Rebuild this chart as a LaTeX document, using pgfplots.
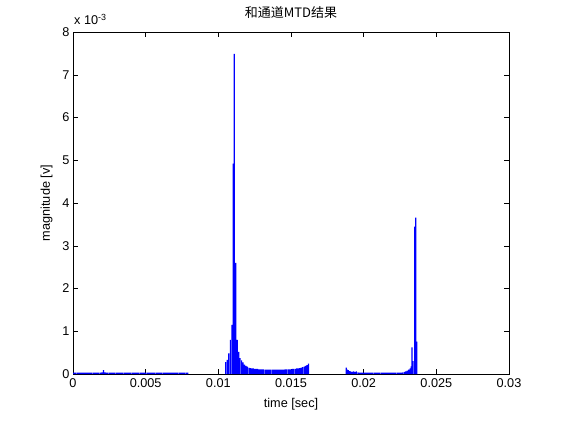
\documentclass[border=0pt]{standalone}
\usepackage{pgfplots}
\pgfplotsset{compat=1.18}
\usepackage{fontspec}
\setmainfont{Liberation Sans}
\newfontfamily\cjk{Noto Sans CJK SC}
\begin{document}
\begin{tikzpicture}
\useasboundingbox (-73pt,-46pt) rectangle (488pt,374pt);
\begin{axis}[
  width=436pt, height=342pt, scale only axis,
  xmin=0, xmax=0.03, ymin=0, ymax=8,
  xtick={0,0.005,0.01,0.015,0.02,0.025,0.03},
  ytick={0,1,2,3,4,5,6,7,8},
  scaled x ticks=false, scaled y ticks=false,
  /pgf/number format/assume math mode=true,
  xticklabel style={/pgf/number format/fixed,/pgf/number format/precision=3},
  tick align=inside, major tick length=5pt,
  tick style={black, line width=0.5pt},
  axis line style={black, line width=0.6pt},
  font=\fontsize{12.7}{15}\selectfont,
  tick label style={font=\fontsize{12.7}{15}\selectfont},
  xticklabel style={yshift=-1pt},
  xlabel={time [sec]}, ylabel={magnitude [v]},
  xlabel style={yshift=-4pt},
  ylabel style={yshift=3pt},
  title={\cjk 和通道MTD结果},
  title style={font=\cjk\fontsize{13}{15}\selectfont, yshift=4pt},
  clip=true,
]
\addplot[ybar, bar width=0.00008, fill=blue, draw=none] coordinates {
(0.0000,0.035)(0.0001,0.035)(0.0002,0.035)(0.0003,0.035)(0.0004,0.035)(0.0005,0.035)(0.0006,0.035)(0.0007,0.035)(0.0008,0.035)(0.0009,0.035)
(0.0010,0.035)(0.0011,0.035)(0.0012,0.035)(0.0013,0.035)(0.0014,0.035)(0.0015,0.035)(0.0016,0.035)(0.0017,0.035)(0.0018,0.035)(0.0019,0.035)
(0.0020,0.04)(0.0021,0.09)(0.0022,0.04)(0.0023,0.035)(0.0024,0.035)(0.0025,0.035)(0.0026,0.035)(0.0027,0.035)(0.0028,0.035)(0.0029,0.035)
(0.0030,0.035)(0.0031,0.035)(0.0032,0.035)(0.0033,0.035)(0.0034,0.035)(0.0035,0.035)(0.0036,0.035)(0.0037,0.035)(0.0038,0.035)(0.0039,0.035)
(0.0040,0.035)(0.0041,0.035)(0.0042,0.035)(0.0043,0.035)(0.0044,0.035)(0.0045,0.035)(0.0046,0.035)(0.0047,0.035)(0.0048,0.035)(0.0049,0.035)
(0.0050,0.035)(0.0051,0.035)(0.0052,0.035)(0.0053,0.035)(0.0054,0.035)(0.0055,0.035)(0.0056,0.035)(0.0057,0.035)(0.0058,0.035)(0.0059,0.035)
(0.0060,0.035)(0.0061,0.035)(0.0062,0.035)(0.0063,0.035)(0.0064,0.035)(0.0065,0.035)(0.0066,0.035)(0.0067,0.035)(0.0068,0.035)(0.0069,0.035)
(0.0070,0.035)(0.0071,0.035)(0.0072,0.035)(0.0073,0.035)(0.0074,0.035)(0.0075,0.035)(0.0076,0.035)(0.0077,0.035)(0.0078,0.035)(0.0079,0.035)
(0.01050,0.28)(0.01061,0.33)(0.01072,0.48)(0.01083,0.80)(0.01094,1.15)(0.01103,4.92)(0.01110,7.49)(0.01120,2.60)(0.01130,0.80)(0.01140,0.52)
(0.01150,0.37)(0.01160,0.32)(0.01170,0.27)(0.01180,0.22)(0.01190,0.19)(0.01200,0.17)(0.01210,0.15)(0.01220,0.14)
(0.0123,0.13)(0.0124,0.13)(0.0125,0.12)(0.0126,0.12)(0.0127,0.12)(0.0128,0.11)(0.0129,0.11)(0.0130,0.11)(0.0131,0.11)(0.0132,0.10)
(0.0133,0.10)(0.0134,0.10)(0.0135,0.10)(0.0136,0.10)(0.0137,0.10)(0.0138,0.10)(0.0139,0.10)(0.0140,0.10)(0.0141,0.10)(0.0142,0.10)
(0.0143,0.10)(0.0144,0.10)(0.0145,0.10)(0.0146,0.11)(0.0147,0.11)(0.0148,0.11)(0.0149,0.11)(0.0150,0.11)(0.0151,0.12)(0.0152,0.12)
(0.0153,0.12)(0.0154,0.13)(0.0155,0.13)(0.0156,0.14)(0.0157,0.15)(0.0158,0.16)(0.0159,0.17)(0.0160,0.19)(0.0161,0.21)(0.0162,0.24)
(0.01880,0.15)(0.01887,0.10)(0.01895,0.09)(0.01903,0.07)(0.0191,0.06)(0.0192,0.05)(0.0193,0.06)(0.0194,0.05)(0.0195,0.06)(0.0196,0.04)
(0.0197,0.03)(0.0198,0.03)(0.0199,0.03)(0.0200,0.03)(0.0201,0.03)(0.0202,0.03)(0.0203,0.03)(0.0204,0.03)(0.0205,0.03)(0.0206,0.03)
(0.0207,0.03)(0.0208,0.03)(0.0209,0.03)(0.0210,0.03)(0.0211,0.03)(0.0212,0.03)(0.0213,0.03)(0.0214,0.03)(0.0215,0.03)(0.0216,0.03)
(0.0217,0.03)(0.0218,0.03)(0.0219,0.03)(0.0220,0.03)(0.0221,0.03)(0.0222,0.03)(0.0223,0.03)(0.0224,0.03)(0.0225,0.03)(0.0226,0.03)
(0.0227,0.04)(0.0228,0.05)(0.0229,0.06)(0.0230,0.08)(0.0231,0.10)(0.0232,0.13)(0.02327,0.18)(0.02333,0.62)(0.02340,0.30)
(0.02351,3.45)(0.02358,3.66)(0.02365,0.76)
};
\end{axis}
\node[anchor=base west, inner sep=0pt, font=\fontsize{12.7}{15}\selectfont] at (1pt,349pt) {x 10\textsuperscript{-3}};
\end{tikzpicture}
\end{document}
